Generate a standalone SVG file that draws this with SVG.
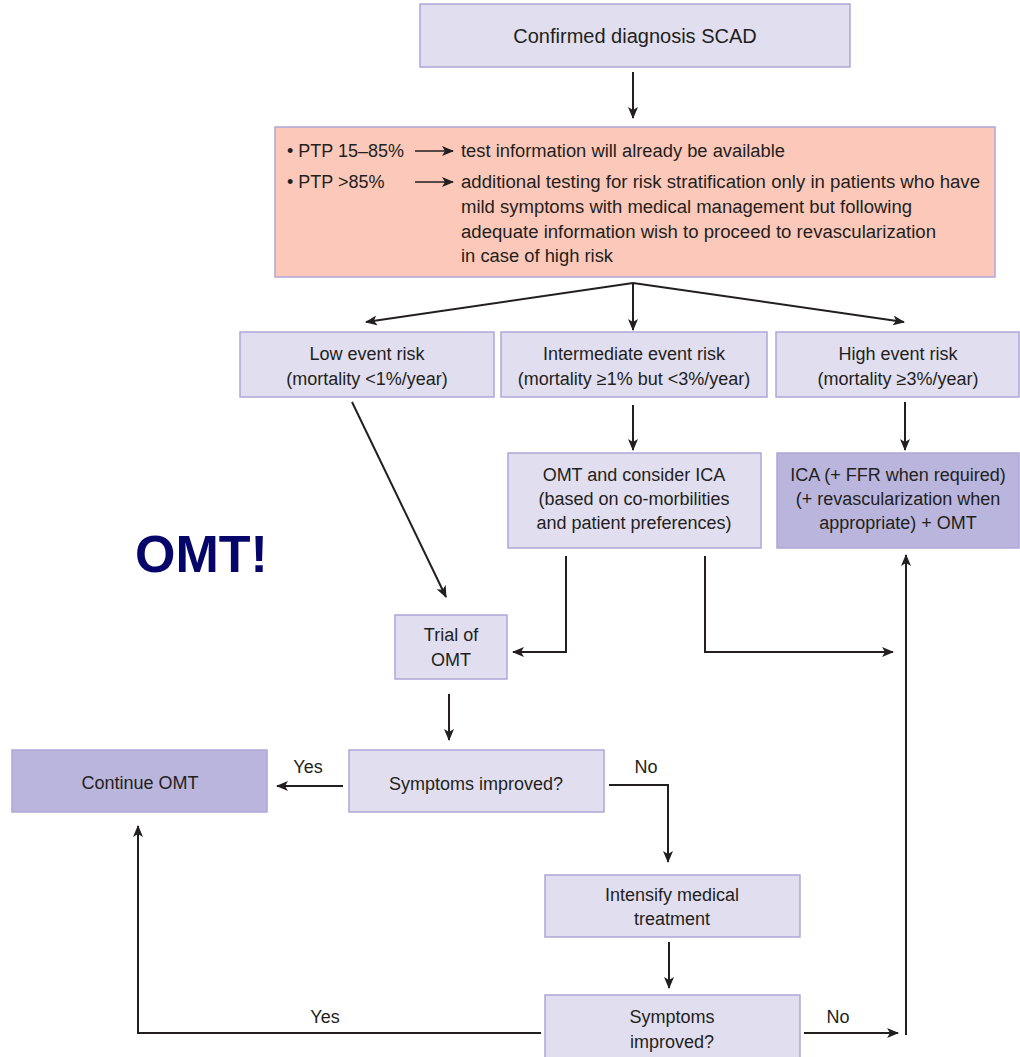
<svg xmlns="http://www.w3.org/2000/svg" width="1020" height="1057" viewBox="0 0 1020 1057">
  <defs>
    <marker id="ah" viewBox="0 0 12 10" refX="11" refY="5" markerWidth="12" markerHeight="10" markerUnits="userSpaceOnUse" orient="auto">
      <path d="M0,0 L12,5 L0,10 L3,5 Z" fill="#231f20"/>
    </marker>
    <style>
      .box { fill: #e1def0; stroke: #aea6d8; stroke-width: 1.5; }
      .dark { fill: #bab5dc; }
      .pink { fill: #fcc8b9; stroke: #aea6d8; stroke-width: 1.5; }
      text { font-family: "Liberation Sans", Arial, sans-serif; font-size: 18px; fill: #231f20; }
      .c { text-anchor: middle; }
      .ln { fill: none; stroke: #231f20; stroke-width: 2; }
      .arr { marker-end: url(#ah); }
      .big { font-family: "Liberation Sans", Arial, sans-serif; font-weight: bold; font-size: 52px; fill: #06066a; }
    </style>
  </defs>

  <rect width="1020" height="1057" fill="#ffffff"/>

  <!-- connectors -->
  <g id="connectors">
    <line class="ln arr" x1="633" y1="72" x2="633" y2="118"/>
    <line class="ln arr" x1="633" y1="283" x2="366" y2="322"/>
    <line class="ln arr" x1="633" y1="283" x2="633" y2="330"/>
    <line class="ln arr" x1="633" y1="283" x2="904" y2="322"/>
    <line class="ln arr" x1="352" y1="402" x2="446" y2="597"/>
    <line class="ln arr" x1="633" y1="405" x2="633" y2="450"/>
    <line class="ln arr" x1="905" y1="402" x2="905" y2="450"/>
    <polyline class="ln arr" points="566,556 566,652 513,652"/>
    <polyline class="ln arr" points="705,556 705,652 893,652"/>
    <line class="ln arr" x1="449" y1="694" x2="449" y2="740"/>
    <line class="ln arr" x1="343" y1="786" x2="277" y2="786"/>
    <polyline class="ln arr" points="609,785 668,785 668,862"/>
    <line class="ln arr" x1="669" y1="942" x2="669" y2="988"/>
    <polyline class="ln arr" points="541,1033 138,1033 138,826"/>
    <line class="ln arr" x1="804" y1="1033" x2="898" y2="1033"/>
    <line class="ln arr" x1="906" y1="1035" x2="906" y2="555"/>
    <text x="308" y="773" class="c">Yes</text>
    <text x="646" y="773" class="c">No</text>
    <text x="325" y="1023" class="c">Yes</text>
    <text x="838" y="1023" class="c">No</text>
  </g>

  <g id="n-confirmed">
    <rect class="box" x="420" y="4" width="430" height="63"/>
    <text x="635" y="43" class="c" style="font-size:20px">Confirmed diagnosis SCAD</text>
  </g>

  <g id="n-ptp">
    <rect class="pink" x="275" y="127" width="720" height="150"/>
    <text x="287" y="157">• PTP 15–85%</text>
    <line class="ln arr" x1="415" y1="151" x2="453" y2="151" style="stroke-width:1.5"/>
    <text x="461" y="157" textLength="324" lengthAdjust="spacingAndGlyphs">test information will already be available</text>
    <text x="287" y="188">• PTP &gt;85%</text>
    <line class="ln arr" x1="415" y1="182" x2="453" y2="182" style="stroke-width:1.5"/>
    <text x="461" y="188" textLength="519" lengthAdjust="spacingAndGlyphs">additional testing for risk stratification only in patients who have</text>
    <text x="461" y="213" textLength="451" lengthAdjust="spacingAndGlyphs">mild symptoms with medical management but following</text>
    <text x="461" y="238" textLength="475" lengthAdjust="spacingAndGlyphs">adequate information wish to proceed to revascularization</text>
    <text x="461" y="262" textLength="152" lengthAdjust="spacingAndGlyphs">in case of high risk</text>
  </g>

  <g id="n-low">
    <rect class="box" x="240" y="332" width="254" height="65"/>
    <text x="367" y="360" class="c">Low event risk</text>
    <text x="367" y="385" class="c">(mortality &lt;1%/year)</text>
  </g>

  <g id="n-intermediate">
    <rect class="box" x="501" y="332" width="266" height="65"/>
    <text x="634" y="360" class="c">Intermediate event risk</text>
    <text x="634" y="385" class="c">(mortality ≥1% but &lt;3%/year)</text>
  </g>

  <g id="n-high">
    <rect class="box" x="776" y="332" width="243" height="65"/>
    <text x="898" y="360" class="c">High event risk</text>
    <text x="898" y="385" class="c">(mortality ≥3%/year)</text>
  </g>

  <g id="n-omt-ica">
    <rect class="box" x="508" y="453" width="253" height="95"/>
    <text x="634" y="481" class="c">OMT and consider ICA</text>
    <text x="634" y="505" class="c">(based on co-morbilities</text>
    <text x="634" y="529" class="c">and patient preferences)</text>
  </g>

  <g id="n-ica">
    <rect class="box dark" x="777" y="453" width="242" height="95"/>
    <text x="898" y="481" class="c">ICA (+ FFR when required)</text>
    <text x="898" y="505" class="c">(+ revascularization when</text>
    <text x="898" y="529" class="c">appropriate) + OMT</text>
  </g>

  <g id="n-omt-label">
    <text x="135" y="572" class="big">OMT!</text>
  </g>

  <g id="n-trial">
    <rect class="box" x="395" y="615" width="112" height="64"/>
    <text x="451" y="641" class="c">Trial of</text>
    <text x="451" y="666" class="c">OMT</text>
  </g>

  <g id="n-symptoms1">
    <rect class="box" x="349" y="750" width="255" height="62"/>
    <text x="476" y="790" class="c">Symptoms improved?</text>
  </g>

  <g id="n-continue">
    <rect class="box dark" x="12" y="750" width="255" height="62"/>
    <text x="140" y="789" class="c">Continue OMT</text>
  </g>

  <g id="n-intensify">
    <rect class="box" x="545" y="875" width="255" height="62"/>
    <text x="672" y="901" class="c">Intensify medical</text>
    <text x="672" y="925" class="c">treatment</text>
  </g>

  <g id="n-symptoms2">
    <rect class="box" x="545" y="995" width="255" height="70"/>
    <text x="672" y="1023" class="c">Symptoms</text>
    <text x="672" y="1048" class="c">improved?</text>
  </g>
</svg>
